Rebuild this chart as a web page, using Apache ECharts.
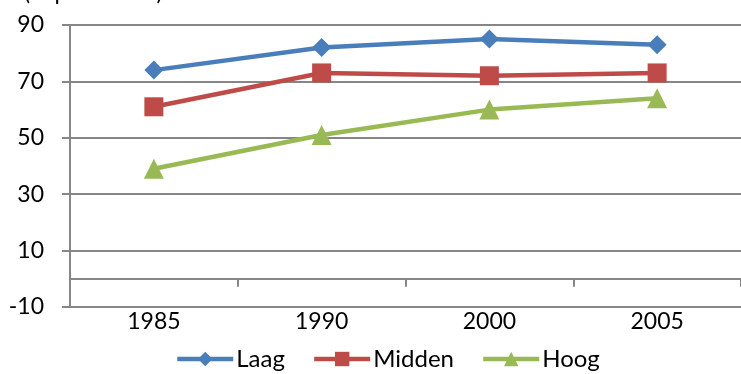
<!DOCTYPE html>
<html><head><meta charset="utf-8">
<script src="https://cdn.jsdelivr.net/npm/echarts@6/dist/echarts.min.js"></script>
<style>html,body{margin:0;padding:0;background:#fff}#c{width:741px;height:374px}</style>
</head><body><div id="c"></div>
<script>
const categories = ['1985', '1990', '2000', '2005'];
const laag = [74, 82, 85, 83];
const midden = [61, 73, 72, 73];
const hoog = [39, 51, 60, 64];
const yMin = -10, yMax = 90, yInterval = 20;

const FONT = 'Lato';
const grey = '#868686';
const chart = echarts.init(document.getElementById('c'));
const mk = (name, data, color, symbol, size) => ({
  name, type: 'line', data, xAxisIndex: 0, yAxisIndex: 0,
  symbol, symbolSize: size, showSymbol: true,
  lineStyle: { color, width: 4.5 }, itemStyle: { color },
  emphasis: { disabled: true }, animation: false
});
chart.setOption({
  animation: false,
  textStyle: { fontFamily: FONT },
  graphic: [{ type: 'text', left: 24, top: -19, style: { text: '(in procenten)', font: '23px ' + FONT, fill: '#000' } }],
  grid: { left: 70, top: 25, bottom: 67, right: -5 },
  legend: {
    data: ['Laag', 'Midden', 'Hoog'], bottom: -2, left: 170,
    itemWidth: 56, itemHeight: 18, itemGap: 27,
    lineStyle: { width: 4.5 },
    textStyle: { fontFamily: FONT, fontSize: 24, color: '#000', padding: [0, 0, 0, -2] }
  },
  xAxis: [{
    type: 'category', data: categories, boundaryGap: true,
    axisLine: { onZero: true, lineStyle: { color: grey, width: 2 } },
    axisTick: { show: true, length: 8, lineStyle: { color: grey, width: 2 } },
    axisLabel: { show: false }, splitLine: { show: false }
  }, {
    type: 'category', data: categories, boundaryGap: true, position: 'bottom',
    axisLine: { show: false, onZero: false }, axisTick: { show: false },
    axisLabel: { show: true, margin: 3, fontFamily: FONT, fontSize: 23, color: '#000' }
  }],
  yAxis: {
    type: 'value', min: yMin, max: yMax, interval: yInterval,
    axisLine: { show: true, lineStyle: { color: grey, width: 2 } },
    axisTick: { show: true, length: 8, lineStyle: { color: grey, width: 2 } },
    axisLabel: { margin: 26, fontFamily: FONT, fontSize: 23, color: '#000' },
    splitLine: { show: true, lineStyle: { color: grey, width: 2 } }
  },
  series: [
    mk('Laag', laag, '#4A7EBB', 'diamond', 19),
    mk('Midden', midden, '#BE4B48', 'rect', 19),
    mk('Hoog', hoog, '#98B954', 'triangle', 20)
  ]
});
</script></body></html>
